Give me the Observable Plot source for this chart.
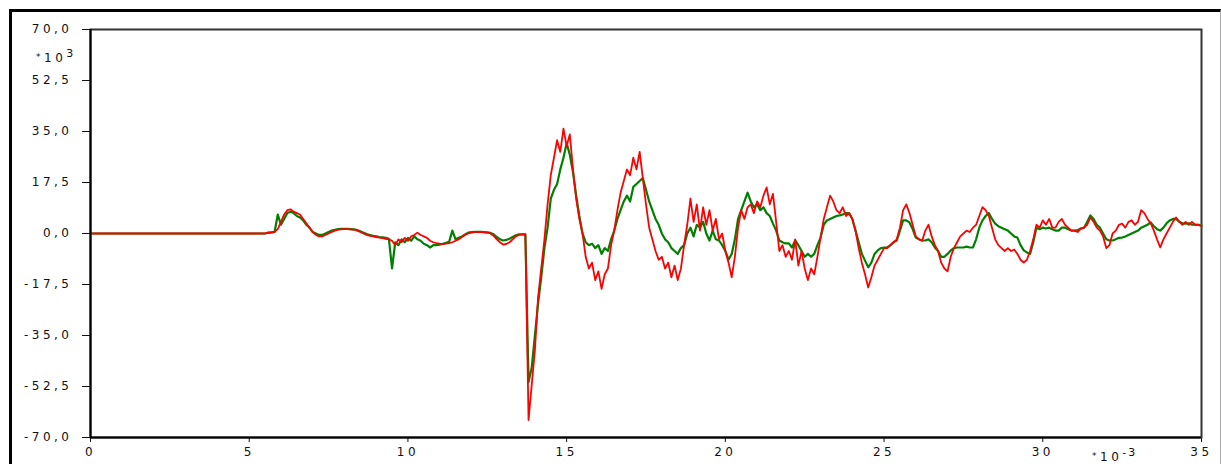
<!DOCTYPE html>
<html>
<head>
<meta charset="utf-8">
<script src="https://cdn.jsdelivr.net/npm/d3@7"></script>
<script src="https://cdn.jsdelivr.net/npm/@observablehq/plot@0.6"></script>
<style>
  html, body { margin: 0; padding: 0; background: #fff; overflow: hidden; }
  #wrap { position: relative; width: 1221px; height: 464px; }
  #outer { position: absolute; left: 9px; top: 9px; width: 1212px; height: 470px;
           border-left: 3px solid #000; border-top: 3px solid #000; border-right: 1px solid #aaa; box-sizing: border-box; }
  .unit { position: absolute; font-family: "DejaVu Sans", sans-serif; font-size: 12px;
          letter-spacing: 3.5px; color: #111; white-space: nowrap; line-height: 12px; }
  .unit sup { font-size: 11px; vertical-align: 5px; letter-spacing: 2px; }
  .unit .ast { font-size: 9px; vertical-align: 2px; }
</style>
</head>
<body>
<div id="wrap">
  <div id="outer"></div>
  <div id="chart"></div>
  <div class="unit" style="left:36px; top:48px;"><span class="ast">*</span>10<sup>3</sup></div>
  <div class="unit" style="left:1092px; top:447px;"><span class="ast">*</span>10<sup>-3</sup></div>
</div>
<script>
// x axis ticks (ms, ×10^-3 s) and y axis ticks (×10^3)
const xTicks = [0, 5, 10, 15, 20, 25, 30, 35];
const yTicks = [-70, -52.5, -35, -17.5, 0, 17.5, 35, 52.5, 70];
const yTickLabels = ["-70,0", "-52,5", "-35,0", "-17,5", "0,0", "17,5", "35,0", "52,5", "70,0"];

// sample times: every 0.1 (×10^-3) from 0 to 35
const time = d3.range(351).map(i => i / 10);

// red series (values ×10^3), one row per unit of time
const redSeries = [
  0,0,0,0,0,0,0,0,0,0,
  0,0,0,0,0,0,0,0,0,0,
  0,0,0,0,0,0,0,0,0,0,
  0,0,0,0,0,0,0,0,0,0,
  0,0,0,0,0,0,0,0,0,0,
  0,0,0,0,0,0,0.4,0.5,0.6,1.5,
  4,6.5,8,8.3,7.5,7,6.5,5,3.5,2,
  0.5,-0.5,-1,-1,-0.5,0,0.5,1,1.3,1.4,
  1.5,1.5,1.4,1.3,1,0.5,0,-0.5,-0.8,-1,
  -1.2,-1.4,-1.6,-1.8,-2,-2.5,-4,-2,-3,-1.5,
  -2.5,-1,-0.5,0.3,-0.5,-1,-1.5,-2.5,-3,-3.3,
  -3.5,-3.6,-3.5,-3.3,-3,-2.5,-2,-1.2,-0.5,0,
  0.3,0.5,0.5,0.5,0.4,0.3,0,-0.8,-2,-3,
  -3.8,-3.6,-3,-2,-1,-0.5,-0.3,-0.3,-64,-52,
  -40,-22,-12,-2,10,20,26,32,28,36,
  30,34,22,12,5,0,-8,-12,-10,-16,
  -13,-19,-14,-12,-4,1,8,14,18,22,
  20,26,22,28,19,10,2,-2,-6,-9,
  -8,-12,-10,-15,-11,-16,-12,-4,3,12,
  4,10,1,9,3,8,1,5,-2,0,
  -6,-10,-15,-8,2,8,5,9,10,7,
  11,9,13,15.8,10,13.6,4,-6,-4,-8,
  -6,-9,-2,-11,-6,-12,-16,-12,-14,-8,
  -1.4,5,9,13,11,8,7,9,6,7,
  5,1,-5,-10,-14,-18.5,-15,-11,-9,-7,
  -5,-5,-4,-3,-2,2,8,10,7,3,
  -1,-2,-2.5,1,3,-1,-4,-6,-10,-12,
  -13,-8,-5,-3,-1,0,1,0.5,2,3,
  6,9,8,6,2,-2,-4,-5,-6,-5,
  -6,-5.5,-7,-9,-10,-9,-6,-2,3,2,
  4.5,3,5,2,2,4,5,3,2,1,
  1,0.5,1.7,2,3,5.5,4,2,1,-1,
  -5,-4,0,1,3,3.4,2,4,4.5,3,
  4,8,7,5,3.5,1,-2,-4.8,-2,0,
  2,4,5.5,4,3,4,3,4,3,3,
  2.5
];

// green series (values ×10^3)
const greenSeries = [
  0,0,0,0,0,0,0,0,0,0,
  0,0,0,0,0,0,0,0,0,0,
  0,0,0,0,0,0,0,0,0,0,
  0,0,0,0,0,0,0,0,0,0,
  0,0,0,0,0,0,0,0,0,0,
  0,0,0,0,0,0,0.2,0.3,0.5,6.5,
  3,5,7,7.5,7,6,5.5,4.5,3,2,
  0.5,0,-0.5,-0.5,0,0.5,1,1.3,1.5,1.6,
  1.6,1.6,1.5,1.4,1.2,0.8,0.3,-0.2,-0.5,-0.8,
  -1,-1.2,-1.3,-1.5,-1.8,-12,-3,-4,-2,-3,
  -1.5,-2.5,-1,-2,-2.5,-3.5,-4,-4.8,-4,-4,
  -3.8,-3.5,-3.2,-2.8,1,-2,-1.5,-1,-0.3,0.3,
  0.5,0.6,0.6,0.6,0.5,0.4,0.2,-0.3,-1.2,-2,
  -2.4,-2.2,-1.8,-1.2,-0.6,-0.3,-0.3,-0.3,-51,-46,
  -35,-24,-15,-5,2,12,15,17,22,26,
  31,27,21,13,6,0,-3,-4,-3.5,-5,
  -4,-7,-5,-6,-2,1,5,8,11,13,
  11,16,17,18,19,15,11,8,5,3,
  0,-2,-3,-5,-6,-7,-5,-4,0,2,
  -1,3,2,4,0,-2.4,1,-2,-2.4,-4,
  -6,-9,-7,-2,5,8,11,14,11,9,
  10,8,9,7,6,3.4,1,-2.4,-3,-3.4,
  -3.4,-4.8,-2.4,-4,-6,-8,-7,-8,-7,-4,
  -1.4,3,4.5,5,5.5,6,6.2,6.5,7,7,
  5,1,-3,-7,-9.3,-11.6,-10,-7,-5.8,-5,
  -4.8,-4.8,-4,-3,-2.4,1,4.5,4.5,3.8,1.5,
  -1.4,-2,-2.4,-2.4,-2,-3,-4.8,-6,-8,-8,
  -7,-5.8,-5,-4.8,-4.8,-4.8,-4.5,-4.8,-4.8,-2,
  2,4.5,6,7,5,3.4,2.5,2,1.5,1,
  0,-1,-1.4,-4,-5.8,-6.5,-7,-3,2,1.5,
  2,1.7,2,1.5,1,1,2,2,1.5,1,
  1,1.2,1.7,2,4,6.2,5,3,2,0,
  -2,-2.4,-2.4,-2,-1.5,-1.4,-1,-0.5,0,0.5,
  1,2,2.5,3,3.8,2.5,1.5,1,2,3.5,
  4.5,5,5,4,3.5,3.4,3.5,3,3,3,
  2.7
];

const redData = time.map((t, i) => ({t, v: redSeries[i]}));
const greenData = time.map((t, i) => ({t, v: greenSeries[i]}));

const chart = Plot.plot({
  width: 1221,
  height: 464,
  marginLeft: 90,
  marginRight: 20,
  marginTop: 29,
  marginBottom: 27,
  style: {fontFamily: "DejaVu Sans, sans-serif", fontSize: "12px", letterSpacing: "3.5px", color: "#111", background: "transparent"},
  x: {domain: [0, 35], ticks: xTicks, tickSize: 5, tickPadding: 5, label: null, tickFormat: d => String(d)},
  y: {domain: [-70, 70], ticks: yTicks, tickSize: 8, tickPadding: 10, label: null,
      tickFormat: d => yTickLabels[yTicks.indexOf(d)]},
  marks: [
    Plot.frame({stroke: "#333", strokeWidth: 2}),
    Plot.line(greenData, {x: "t", y: "v", stroke: "#008000", strokeWidth: 2.2}),
    Plot.line(redData, {x: "t", y: "v", stroke: "#ff0000", strokeWidth: 1.8}),
    Plot.ruleX([0], {stroke: "#000", strokeWidth: 2}),
    Plot.ruleY([-70], {stroke: "#000", strokeWidth: 2})
  ]
});
document.getElementById("chart").appendChild(chart);
</script>
</body>
</html>
